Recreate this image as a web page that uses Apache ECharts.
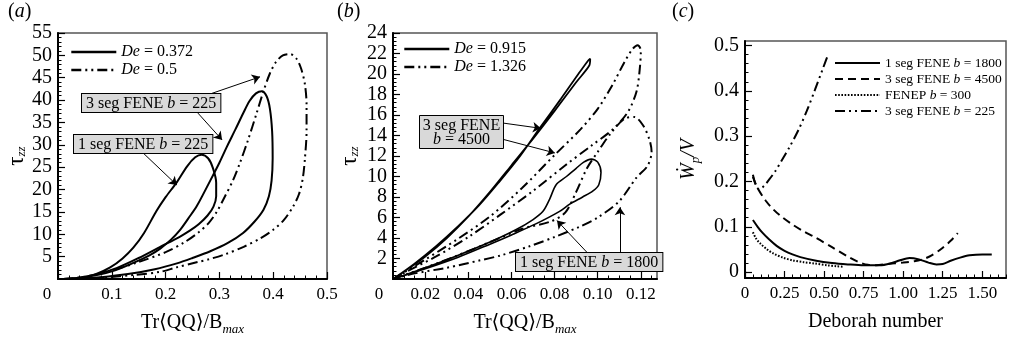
<!DOCTYPE html>
<html><head><meta charset="utf-8">
<script src="https://cdn.jsdelivr.net/npm/echarts@6/dist/echarts.min.js"></script>
<style>html,body{margin:0;padding:0;background:#fff}#c{width:1020px;height:342px}</style>
</head><body><div id="c"></div><script>
// ---------------- DATA ----------------
// Panel (a): tau_zz vs Tr<QQ>/Bmax
const a_1seg225_De0372 = [[0.01,0],[0.04,0.3],[0.07,1.1],[0.097,2.6],[0.12,4.6],[0.14,7.0],[0.16,10.3],[0.183,15.2],[0.2,18.3],[0.22,21.5],[0.24,25.2],[0.255,27.2],[0.267,27.8],[0.279,27.0],[0.288,24.8],[0.294,21.5],[0.294,18.5],[0.289,16.2],[0.278,14.2],[0.262,12.3],[0.245,10.8],[0.227,9.5],[0.19,7.2],[0.15,4.7],[0.11,2.5],[0.07,1.0],[0.035,0.25],[0.01,0]];
const a_3seg225_De0372 = [[0.01,0],[0.05,0.4],[0.10,1.7],[0.14,3.6],[0.17,5.3],[0.19,6.8],[0.21,8.8],[0.227,11],[0.242,13.5],[0.258,16.3],[0.283,22],[0.30,26],[0.314,29.6],[0.33,33.5],[0.344,37],[0.356,39.8],[0.368,41.5],[0.379,42],[0.388,40.8],[0.394,38],[0.398,33],[0.399,27],[0.397,22],[0.392,18.5],[0.382,15.5],[0.365,12.8],[0.344,10.3],[0.315,8],[0.283,6.2],[0.25,4.7],[0.221,3.5],[0.18,2.2],[0.13,1.1],[0.08,0.4],[0.04,0.1],[0.01,0]];
const a_3seg225_De05 = [[0.01,0],[0.05,0.5],[0.10,1.9],[0.15,3.8],[0.20,6.0],[0.235,8.2],[0.262,10.5],[0.28,12.5],[0.295,15],[0.31,18.4],[0.325,22],[0.338,25.9],[0.353,31],[0.369,37],[0.382,42],[0.394,46],[0.405,48.5],[0.418,50],[0.431,50.3],[0.443,49.3],[0.452,47],[0.459,43.5],[0.462,39],[0.462,33],[0.459,27],[0.455,22.5],[0.448,19],[0.437,16.2],[0.42,13.2],[0.40,11],[0.375,9],[0.345,7.2],[0.31,5.5],[0.28,4.4],[0.26,3.8],[0.22,2.6],[0.19,1.6],[0.14,0.9],[0.09,0.4],[0.04,0.08],[0.01,0]];
// Panel (b)
const b_3seg4500_De0915 = [[0.005,0],[0.015,1.5],[0.025,3.2],[0.035,5.1],[0.045,7.2],[0.054,9.4],[0.064,12],[0.073,14.7],[0.083,17.6],[0.091,20],[0.0955,21.3],[0.0965,21.5],[0.096,20.8],[0.09,19.2],[0.08,16.4],[0.07,13.7],[0.06,11.1],[0.05,8.5],[0.04,6.1],[0.03,4.0],[0.02,2.2],[0.01,0.7],[0.005,0]];
const b_3seg4500_De1326 = [[0.005,0],[0.02,1.9],[0.035,3.9],[0.05,6.1],[0.065,8.9],[0.08,12.1],[0.092,14.6],[0.1,16.6],[0.107,19],[0.112,21],[0.116,22.4],[0.1185,22.8],[0.12,22.3],[0.1195,20.5],[0.118,18.3],[0.114,16.3],[0.107,14.6],[0.097,13],[0.085,11.1],[0.07,8.6],[0.055,6.3],[0.04,4.1],[0.025,2.2],[0.012,0.8],[0.005,0]];
const b_1seg1800_De0915 = [[0.005,0],[0.02,1.1],[0.035,2.3],[0.05,3.6],[0.062,4.8],[0.07,5.8],[0.0746,6.6],[0.0777,7.8],[0.0807,9.2],[0.0855,10.0],[0.09,10.8],[0.0935,11.4],[0.097,11.7],[0.1,11.4],[0.1015,10.4],[0.1005,9.2],[0.0978,8.6],[0.093,8.0],[0.087,7.3],[0.0823,6.6],[0.0715,5.4],[0.06,4.3],[0.05,3.4],[0.035,2.1],[0.02,1.0],[0.005,0]];
const b_1seg1800_De1326 = [[0.005,0],[0.02,1.1],[0.035,2.3],[0.05,3.6],[0.065,4.9],[0.078,5.6],[0.085,6.5],[0.09,8.5],[0.095,10.8],[0.1,12.4],[0.106,14.2],[0.113,15.7],[0.117,15.8],[0.121,15.0],[0.124,13.6],[0.125,12.4],[0.123,11.0],[0.118,9.9],[0.11,7.6],[0.1,6.0],[0.0916,5.1],[0.08,4.1],[0.0684,3.2],[0.055,2.3],[0.045,1.8],[0.03,1.1],[0.014,0.5],[0.005,0]];
// Panel (c): Wp/V vs Deborah number
const c_1seg1800 = [[0.05,0.115],[0.08,0.1],[0.11,0.087],[0.15,0.073],[0.2,0.058],[0.25,0.047],[0.3,0.039],[0.35,0.033],[0.45,0.025],[0.55,0.02],[0.65,0.017],[0.75,0.015],[0.85,0.015],[0.92,0.019],[0.98,0.026],[1.04,0.031],[1.1,0.028],[1.16,0.021],[1.21,0.017],[1.25,0.018],[1.3,0.025],[1.36,0.032],[1.42,0.037],[1.5,0.039],[1.56,0.039]];
const c_3seg4500 = [[0.05,0.21],[0.08,0.185],[0.13,0.158],[0.18,0.138],[0.232,0.122],[0.3,0.105],[0.37,0.09],[0.442,0.077],[0.55,0.055],[0.651,0.034],[0.72,0.022],[0.777,0.016],[0.83,0.015],[0.9,0.018],[1.0,0.021],[1.07,0.024],[1.13,0.029],[1.18,0.037],[1.24,0.051],[1.3,0.069],[1.345,0.086]];
const c_fenep300 = [[0.05,0.088],[0.07,0.074],[0.1,0.062],[0.14,0.05],[0.18,0.041],[0.24,0.032],[0.3,0.026],[0.37,0.022],[0.44,0.019],[0.52,0.015],[0.58,0.013],[0.62,0.012]];
const c_3seg225 = [[0.05,0.215],[0.07,0.19],[0.09,0.183],[0.12,0.19],[0.15,0.203],[0.19,0.222],[0.23,0.245],[0.28,0.275],[0.337,0.313],[0.39,0.355],[0.442,0.402],[0.49,0.447],[0.525,0.48]];
// Tick labels
const aXTickLabels = [0,0.1,0.2,0.3,0.4,0.5];
const aYTickLabels = [5,10,15,20,25,30,35,40,45,50,55];
const bXTickLabels = [0.005,0.02,0.04,0.06,0.08,0.10,0.12];
const bYTickLabels = [2,4,6,8,10,12,14,16,18,20,22,24];
const cXTickLabels = [0,0.25,0.5,0.75,1.0,1.25,1.5];
const cYTickLabels = [0,0.1,0.2,0.3,0.4,0.5];
// Legends
const aLegend = ['De = 0.372','De = 0.5'];
const bLegend = ['De = 0.915','De = 1.326'];
const cLegend = ['1 seg FENE b = 1800','3 seg FENE b = 4500','FENEP b = 300','3 seg FENE b = 225'];

// ---------------- STYLE / LAYOUT ----------------
const FONT = "'Liberation Serif','DejaVu Serif',serif";
const DDOT = [10,4,2,4,2,4];
function steps(a,b,s){const r=[];const n=Math.round((b-a)/s);for(let i=0;i<=n;i++)r.push(+(a+i*s).toFixed(6));return r;}
const grids = [
  {left:58, top:33, width:269, height:246},
  {left:393, top:33, width:264, height:246},
  {left:745, top:41, width:261, height:237}
];
function axisPair(dim, g, min, max, majors, minors, labels, fmt, labelSize, name, nameGap, rich){
  const pos = dim==='x' ? 'bottom' : 'left';
  const minor = {type:'value', gridIndex:g, min, max, position:pos, silent:true,
    axisLine:{show:false, onZero:false}, splitLine:{show:false}, axisLabel:{show:false},
    axisTick:{show:true, inside:true, length:3.5, customValues:minors, lineStyle:{color:'#000', width:1}}};
  const major = {type:'value', gridIndex:g, min, max, position:pos, silent:true,
    axisLine:{show:true, onZero:false, lineStyle:{color:'#000', width:2}},
    splitLine:{show:false},
    axisTick:{show:true, inside:true, length:7, customValues:majors, lineStyle:{color:'#000', width:1.2}},
    axisLabel:{customValues:labels, formatter:fmt, fontFamily:FONT, fontSize:labelSize, color:'#000', margin: dim==='x'?7:6,
      rich:{o:{fontFamily:FONT, fontSize:labelSize, color:'#000', padding:[0, rich.oPad||0, 0, 0]}}},
    name, nameLocation:'middle', nameGap,
    nameTextStyle:{color:'#000', fontFamily:FONT, fontSize:20, rich:rich.name}};
  return [minor, major];
}
const subRich = {
  n:{fontFamily:FONT, fontSize:20, color:'#000', lineHeight:22, verticalAlign:'top'},
  t:{fontFamily:FONT, fontSize:23, color:'#000', lineHeight:22, verticalAlign:'top'},
  i:{fontFamily:FONT, fontSize:20, fontStyle:'italic', color:'#000', lineHeight:22, verticalAlign:'top'},
  s:{fontFamily:FONT, fontSize:13, fontStyle:'italic', color:'#000', lineHeight:13, padding:[11,0,0,0]}
};
const xName = '{n|Tr⟨QQ⟩/B}{s|max}';
const tauName = '{t|τ}{s|zz}';

const xA = axisPair('x',0,0,0.5,aXTickLabels,steps(0,0.5,0.02),aXTickLabels,
  v=> v===0?'{o|0}':v.toFixed(1),17,xName,34,{oPad:22,name:subRich});
const xB = axisPair('x',1,0.005,0.1275,[0.02,0.04,0.06,0.08,0.10,0.12],steps(0.005,0.125,0.005),bXTickLabels,
  v=> v<0.01?'{o|0}':v.toFixed(2),17,xName,34,{oPad:28,name:subRich});
const xC = axisPair('x',2,0,1.65,cXTickLabels,steps(0,1.65,0.05),cXTickLabels,
  v=> v===0?'0':v.toFixed(2),17,'Deborah number',34,{name:subRich});
const yA = axisPair('y',0,0,55,aYTickLabels,steps(0,55,1),aYTickLabels,v=>String(v),20,tauName,31,{name:subRich});
const yB = axisPair('y',1,0,24,bYTickLabels,steps(0,24,0.4),bYTickLabels,v=>String(v),20,tauName,33,{name:subRich});
const yC = axisPair('y',2,-0.013,0.51,cYTickLabels,steps(0,0.5,0.02),cYTickLabels,
  v=> v===0?'0':v.toFixed(1),20,'{i|Ẇ}{s|p}{i|/V}',44,{name:subRich});

function line(name, g, data, type, width){
  return {type:'line', name, xAxisIndex:2*g+1, yAxisIndex:2*g+1, data, symbol:'none', showSymbol:false,
    smooth:0.3, silent:true, animation:false, z:3,
    lineStyle:{color:'#000', width:width||2, type:type||'solid'}, itemStyle:{color:'#000'}};
}
function arrows(list){
  return {silent:true, symbol:['none','arrow'], symbolSize:8, animation:false, label:{show:false},
    lineStyle:{color:'#000', width:1, type:'solid'}, emphasis:{disabled:true},
    data:list.map(p=>[{coord:p[0]},{coord:p[1]}])};
}
const sA1 = line(aLegend[0],0,a_1seg225_De0372);
sA1.markLine = arrows([[[0.286,41.5],[0.3755,45.2]],[[0.260,37.1],[0.305,31.1]],[[0.158,28.2],[0.221,21.0]]]);
const sB1 = line(bLegend[0],1,b_3seg4500_De0915,'solid',1.8);
sB1.markLine = arrows([[[0.0565,15.2],[0.0736,14.7]],[[0.0565,13.6],[0.0801,12.3]],[[0.095,2.6],[0.0811,5.7]],[[0.1103,2.6],[0.1103,7.0]]]);

const series = [
  sA1,
  line(aLegend[0],0,a_3seg225_De0372),
  line(aLegend[1],0,a_3seg225_De05,DDOT),
  sB1,
  line(bLegend[1],1,b_3seg4500_De1326,DDOT),
  line(bLegend[0],1,b_1seg1800_De0915,'solid',1.6),
  line(bLegend[1],1,b_1seg1800_De1326,DDOT),
  line(cLegend[0],2,c_1seg1800,'solid'),
  line(cLegend[1],2,c_3seg4500,[8,5]),
  line(cLegend[2],2,c_fenep300,[1.6,1.6]),
  line(cLegend[3],2,c_3seg225,DDOT)
];
function legend(data,left,top,size,iw,ih,gap,lw){
  return {data, left, top, orient:'vertical', itemWidth:iw, itemHeight:ih, itemGap:gap, selectedMode:false,
    padding:0, itemStyle:{opacity:0, borderWidth:0, color:'transparent'}, lineStyle:{width:lw},
    textStyle:{fontFamily:FONT, fontSize:size, color:'#000',
      rich:{i:{fontFamily:FONT, fontSize:size, fontStyle:'italic', color:'#000'}}},
    formatter:n=>n.replace('De','{i|De}').replace(' b ',' {i|b} ')};
}
const RICH16 = {i:{fontFamily:FONT, fontSize:16, fontStyle:'italic', fill:'#000', lineHeight:17}};
const boxStyle = (text)=>({text, font:'16px '+FONT, fontFamily:FONT, fontSize:16, fill:'#000', backgroundColor:'#d9d9d9',
  borderColor:'#000', borderWidth:1, padding:[1,4,0,4], lineHeight:17, rich:RICH16});
const plainText = (text)=>({text, font:'16px '+FONT, fontFamily:FONT, fontSize:16, fill:'#000', lineHeight:17,
  align:'center', verticalAlign:'top', rich:RICH16});
const titleStyle = t=>({text:t, font:'20px '+FONT, fontFamily:FONT, fontSize:20, fill:'#000',
  rich:{i:{fontFamily:FONT, fontSize:20, fontStyle:'italic', fill:'#000'}}});

const option = {
  backgroundColor:'#fff', animation:false,
  grid: grids.map(g=>Object.assign({show:true, borderColor:'#555', borderWidth:1.5, backgroundColor:'transparent'}, g)),
  xAxis:[...xA,...xB,...xC],
  yAxis:[...yA,...yB,...yC],
  legend:[legend(aLegend,70,44,16,45,14,2,2.6), legend(bLegend,403,41,16,45,14,2,2.6), legend(cLegend,834,56,13.5,45,12,2,2)],
  series,
  graphic:[
    {type:'text', left:8, top:2, z:100, style:titleStyle('({i|a})')},
    {type:'text', left:337, top:2, z:100, style:titleStyle('({i|b})')},
    {type:'text', left:672, top:2, z:100, style:titleStyle('({i|c})')},
    {type:'text', left:81, top:93, z:100, style:boxStyle('3 seg FENE {i|b} = 225')},
    {type:'text', left:73, top:134, z:100, style:boxStyle('1 seg FENE {i|b} = 225')},
    {type:'rect', z:100, shape:{x:419.5, y:115.5, width:84, height:33}, style:{fill:'#d9d9d9', stroke:'#000', lineWidth:1}},
    {type:'text', z:101, x:461.5, y:117, style:plainText('3 seg FENE')},
    {type:'text', z:101, x:461.5, y:131, style:plainText('{i|b} = 4500')},
    {type:'text', left:515, top:252, z:100, style:boxStyle('1 seg FENE {i|b} = 1800')}
  ]
};
const chart = echarts.init(document.getElementById('c'), null, {renderer:'canvas'});
chart.setOption(option);
</script></body></html>
